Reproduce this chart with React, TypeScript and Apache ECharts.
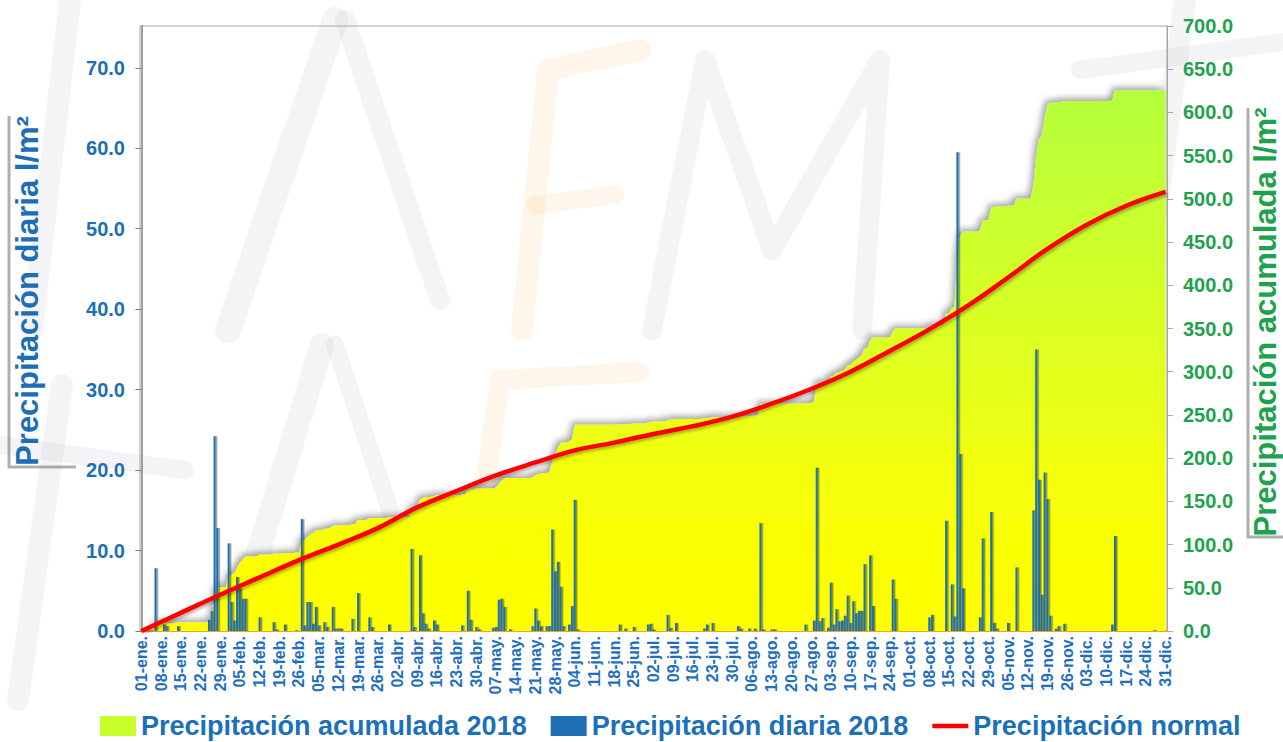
import React, { useEffect, useRef } from "react";
import * as echarts from "echarts";

// ---- Categories (days of 2018) ----
const MONTH_ABBR = ["ene.", "feb.", "mar.", "abr.", "may.", "jun.", "jul.", "ago.", "sep.", "oct.", "nov.", "dic."];
const MONTH_DAYS = [31, 28, 31, 30, 31, 30, 31, 31, 30, 31, 30, 31];

// ---- Daily precipitation 2018 (l/m2): [day index (0 = 01-ene.), value] ----
const RAIN_EVENTS: [number, number][] = [
  [5, 7.8], [8, 0.8], [9, 0.6], [13, 0.6],
  [24, 1.4], [25, 2.5], [26, 24.2], [27, 12.8],
  [31, 10.9], [32, 3.6], [33, 1.3], [34, 6.7], [35, 5.3], [36, 4.0], [37, 4.0],
  [42, 1.7], [47, 1.1], [48, 0.2], [51, 0.8], [55, 0.1],
  [57, 13.9], [58, 0.7], [59, 3.6], [60, 3.6], [61, 0.9], [62, 3.0], [63, 0.7],
  [65, 1.1], [66, 0.5], [68, 3.0], [69, 0.3], [70, 0.3], [71, 0.3],
  [75, 1.5], [77, 4.7], [81, 1.7], [82, 0.5], [88, 0.8],
  [96, 10.2], [97, 0.5], [99, 9.4], [100, 2.2], [101, 0.9], [102, 0.3], [104, 1.3], [105, 0.8],
  [114, 0.7], [116, 5.0], [117, 1.4], [119, 0.5], [120, 0.2],
  [125, 0.4], [126, 0.5], [127, 3.9], [128, 4.0], [129, 3.0], [131, 0.2],
  [139, 0.6], [140, 2.8], [141, 1.3], [142, 0.6], [144, 0.6], [145, 0.6],
  [146, 12.6], [147, 7.4], [148, 8.6], [149, 5.5], [150, 0.6],
  [152, 0.8], [153, 3.1], [154, 16.3], [155, 0.2],
  [170, 0.8], [172, 0.3], [175, 0.5], [180, 0.8], [181, 0.9], [182, 0.2],
  [187, 2.0], [188, 0.4], [190, 1.0], [200, 0.3], [201, 0.8], [203, 1.0],
  [212, 0.6], [213, 0.3], [216, 0.3], [218, 0.3],
  [220, 13.4], [221, 0.2], [224, 0.2], [225, 0.2],
  [236, 0.8], [239, 1.3], [240, 20.3], [241, 1.2], [242, 1.6], [244, 0.4],
  [245, 6.0], [246, 0.8], [247, 2.7], [248, 1.2], [249, 1.3], [250, 1.9],
  [251, 4.4], [252, 1.0], [253, 3.7], [254, 2.2], [255, 2.5], [256, 2.5],
  [257, 8.3], [259, 9.4], [260, 3.1],
  [267, 6.4], [268, 4.0], [280, 1.7], [281, 2.0],
  [286, 13.7], [288, 5.8], [289, 1.8], [290, 59.5], [291, 22.0], [292, 5.3],
  [298, 1.7], [299, 11.5], [302, 14.8], [303, 1.0], [304, 0.3], [308, 1.0], [311, 7.9],
  [317, 15.0], [318, 35.0], [319, 18.8], [320, 4.5], [321, 19.7], [322, 16.4], [323, 1.9],
  [325, 0.3], [326, 0.6], [328, 0.9],
  [345, 0.8], [346, 11.8], [360, 0.1],
];

// ---- Normal accumulated precipitation (l/m2): [day index, value] ----
const NORMAL_POINTS: [number, number][] = [
  [0, 0], [14, 21], [28, 42], [42, 62], [56, 82], [70, 100], [84, 119],
  [98, 143], [112, 162], [126, 180], [140, 195], [154, 209], [168, 218],
  [182, 228], [196, 237], [210, 248], [224, 263], [238, 280], [252, 300],
  [266, 324], [280, 349], [294, 377], [308, 409], [322, 442], [336, 470],
  [350, 492], [364, 508],
];

// ---- Axis ticks ----
const LEFT_AXIS = { min: 0, max: 75.2, interval: 10 };
const RIGHT_AXIS = { min: 0, max: 700, interval: 50 };

const SERIES_NAMES = ["Precipitación acumulada 2018", "Precipitación diaria 2018", "Precipitación normal"];

const FONT = '"Liberation Sans", Arial, Helvetica, sans-serif';
const BLUE = "#1c6fb7";
const GREEN = "#1fa24e";

export default function App() {
  const ref = useRef<HTMLDivElement>(null);

  useEffect(() => {
    if (!ref.current) return;
    const chart = echarts.init(ref.current, undefined, { renderer: "svg" });

    const dayLabels: string[] = [];
    MONTH_DAYS.forEach((n, m) => {
      for (let d = 1; d <= n; d++) dayLabels.push(`${String(d).padStart(2, "0")}-${MONTH_ABBR[m]}`);
    });
    const daily: number[] = new Array(dayLabels.length).fill(0);
    RAIN_EVENTS.forEach(([d, v]) => (daily[d] = v));
    const cumulative: number[] = [];
    let acc = 0;
    daily.forEach((v) => {
      acc += v;
      cumulative.push(Math.round(acc * 10) / 10);
    });

    const wmGray = "rgba(200,200,208,0.2)";
    const wmOrange = "rgba(246,196,130,0.16)";
    const stroke = (pts: number[][], color: string, w = 24) => ({
      type: "polyline",
      silent: true,
      z: -10,
      shape: { points: pts },
      style: { stroke: color, lineWidth: w, lineCap: "round", lineJoin: "round", fill: null },
    });

    chart.setOption({
      animation: false,
      textStyle: { fontFamily: FONT },
      grid: {
        left: 140,
        right: 116,
        top: 26,
        bottom: 111,
        show: true,
        borderColor: "#a6a6a6",
        borderWidth: 1,
        backgroundColor: "transparent",
      },
      legend: {
        left: 100,
        top: 712,
        itemWidth: 36,
        itemHeight: 20,
        itemGap: 24,
        padding: 0,
        selectedMode: false,
        textStyle: {
          fontSize: 27,
          lineHeight: 28,
          fontWeight: "bold",
          color: "#1a70b9",
          fontFamily: FONT,
        },
        data: [
          { name: SERIES_NAMES[0], icon: "rect", itemStyle: { color: "#c8ff2a", borderWidth: 0 } },
          { name: SERIES_NAMES[1], icon: "rect", itemStyle: { color: "#1f6fb5", borderWidth: 0 } },
          {
            name: SERIES_NAMES[2],
            icon: "path://M0,0 L40,0 L40,5 L0,5 Z",
            itemStyle: { color: "#ff0000", borderWidth: 0 },
          },
        ],
      },
      xAxis: [
        {
          type: "category",
          data: dayLabels,
          boundaryGap: true,
          axisLine: { lineStyle: { color: "#f2a22a", width: 2 } },
          axisTick: { show: false },
          axisLabel: {
            interval: 6,
            rotate: 90,
            margin: 5,
            fontSize: 16,
            fontWeight: "bold",
            color: "#1f6fc0",
            fontFamily: FONT,
          },
          splitLine: { show: false },
        },
        { type: "value", min: -0.5, max: 364.5, show: false },
      ],
      yAxis: [
        {
          type: "value",
          position: "left",
          min: LEFT_AXIS.min,
          max: LEFT_AXIS.max,
          interval: LEFT_AXIS.interval,
          axisLine: { show: true, lineStyle: { color: "#7f7f7f", width: 1.5 } },
          axisTick: { show: true, length: 6, lineStyle: { color: "#7f7f7f" } },
          axisLabel: {
            showMaxLabel: false,
            margin: 15,
            fontSize: 20,
            fontWeight: "bold",
            color: BLUE,
            fontFamily: FONT,
            formatter: (v: number) => v.toFixed(1),
          },
          splitLine: { show: false },
        },
        {
          type: "value",
          position: "right",
          min: RIGHT_AXIS.min,
          max: RIGHT_AXIS.max,
          interval: RIGHT_AXIS.interval,
          axisLine: { show: true, lineStyle: { color: "#a6a6a6", width: 1 } },
          axisTick: { show: true, length: 6, lineStyle: { color: "#a6a6a6" } },
          axisLabel: {
            margin: 16,
            fontSize: 20,
            fontWeight: "bold",
            color: GREEN,
            fontFamily: FONT,
            formatter: (v: number) => v.toFixed(1),
          },
          splitLine: { show: false },
        },
      ],
      graphic: [
        // faint watermark strokes
        stroke([[228, 330], [335, 20]], wmGray, 26),
        stroke([[345, 20], [440, 300]], wmGray, 20),
        stroke([[522, 330], [548, 70], [640, 50]], wmOrange, 22),
        stroke([[535, 205], [615, 195]], wmOrange, 18),
        stroke([[652, 330], [705, 60], [772, 250], [880, 60], [862, 330]], wmGray, 20),
        stroke([[1185, 0], [1140, 330]], wmGray, 22),
        stroke([[1080, 70], [1283, 42]], wmGray, 18),
        stroke([[242, 605], [322, 345]], wmGray, 24),
        stroke([[335, 345], [410, 570]], wmGray, 18),
        stroke([[480, 520], [500, 380], [640, 372]], wmOrange, 20),
        stroke([[70, 0], [32, 330]], wmGray, 22),
        stroke([[62, 385], [18, 700]], wmGray, 22),
        stroke([[0, 445], [185, 470]], wmGray, 18),
        // axis-title shadow boxes
        {
          type: "polyline",
          silent: true,
          shape: { points: [[9, 116], [9, 467], [76, 467]] },
          style: { stroke: "rgba(110,110,110,0.55)", lineWidth: 3, fill: null },
        },
        {
          type: "polyline",
          silent: true,
          shape: { points: [[1248, 108], [1248, 537], [1283, 537]] },
          style: { stroke: "rgba(110,110,110,0.55)", lineWidth: 3, fill: null },
        },
        {
          type: "text",
          x: 27,
          y: 291,
          rotation: Math.PI / 2,
          silent: true,
          style: {
            text: "Precipitación diaria l/m²",
            fill: BLUE,
            font: `bold 31px ${FONT}`,
            align: "center",
            verticalAlign: "middle",
          },
        },
        {
          type: "text",
          x: 1265,
          y: 322,
          rotation: Math.PI / 2,
          silent: true,
          style: {
            text: "Precipitación acumulada l/m²",
            fill: GREEN,
            font: `bold 31px ${FONT}`,
            align: "center",
            verticalAlign: "middle",
          },
        },
      ],
      series: [
        {
          name: SERIES_NAMES[0],
          type: "line",
          xAxisIndex: 0,
          yAxisIndex: 1,
          data: cumulative,
          symbol: "none",
          showSymbol: false,
          lineStyle: { width: 0 },
          itemStyle: { color: "#c8ff2a" },
          areaStyle: {
            color: new echarts.graphic.LinearGradient(0, 0, 0, 1, [
              { offset: 0, color: "#b4ff3c" },
              { offset: 0.5, color: "#e0ff20" },
              { offset: 0.75, color: "#f7ff08" },
              { offset: 1, color: "#ffff00" },
            ]),
            opacity: 1,
            shadowColor: "rgba(0,0,0,0.35)",
            shadowBlur: 6,
            shadowOffsetX: -3,
            shadowOffsetY: -3,
          },
          z: 1,
        },
        {
          name: SERIES_NAMES[1],
          type: "bar",
          xAxisIndex: 0,
          yAxisIndex: 0,
          data: daily.map((v) => (v > 0 ? v : null)),
          barWidth: 2,
          itemStyle: {
            color: "#1f6fb5",
            shadowColor: "rgba(0,0,0,0.45)",
            shadowBlur: 1,
            shadowOffsetX: 1.5,
          },
          z: 2,
        },
        {
          name: SERIES_NAMES[2],
          type: "line",
          xAxisIndex: 1,
          yAxisIndex: 1,
          data: NORMAL_POINTS,
          smooth: 0.4,
          symbol: "none",
          showSymbol: false,
          lineStyle: {
            color: "#ff0000",
            width: 4.5,
            shadowColor: "rgba(0,0,0,0.3)",
            shadowBlur: 3,
            shadowOffsetX: 1.5,
            shadowOffsetY: 2,
          },
          itemStyle: { color: "#ff0000" },
          z: 3,
        },
      ],
    });

    return () => chart.dispose();
  }, []);

  return (
    <div
      ref={ref}
      style={{ position: "fixed", left: 0, top: 0, width: 1283, height: 742, background: "#ffffff" }}
    />
  );
}
